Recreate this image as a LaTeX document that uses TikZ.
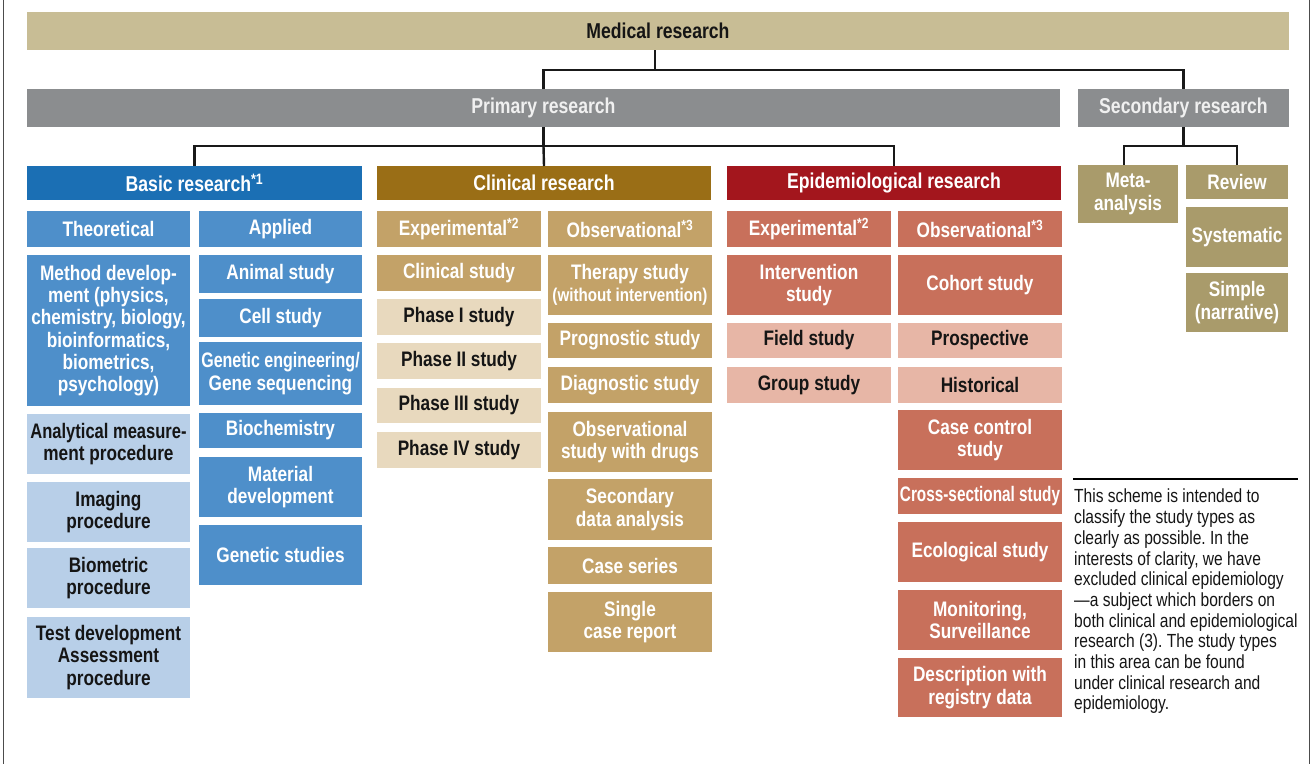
\documentclass[tikz,border=0pt]{standalone}
\usepackage{fontspec}
\usepackage{graphicx}
\setmainfont{Liberation Sans}[FakeStretch=0.82]
\frenchspacing
\definecolor{medtan}{HTML}{C8BD95}
\definecolor{prigrey}{HTML}{8B8D8F}
\definecolor{basicblue}{HTML}{1B6FB4}
\definecolor{midblue}{HTML}{4E8FCA}
\definecolor{lightblue}{HTML}{B8CFE8}
\definecolor{clinhdr}{HTML}{9A6E16}
\definecolor{clinmid}{HTML}{C3A268}
\definecolor{clinlight}{HTML}{E8D9BE}
\definecolor{epihdr}{HTML}{A3161D}
\definecolor{epimid}{HTML}{C8705B}
\definecolor{epilight}{HTML}{E7B6A6}
\definecolor{secmid}{HTML}{A99B6B}
\definecolor{darktext}{HTML}{151515}
\newcommand\hfnt{\fontsize{21.5}{23}\selectfont\bfseries}
\newcommand\bfnt{\fontsize{21}{22.3}\selectfont\bfseries}
\newcommand\nfnt{\fontsize{19}{20.7}\selectfont}
\newcommand\B[7]{%
  \pgfmathsetmacro\bw{#5-#3}\pgfmathsetmacro\bh{#6-#4}%
  \pgfmathsetmacro\bcx{(#3+#5)/2}\pgfmathsetmacro\bcy{(#4+#6)/2}%
  \node[#2, minimum width=\bw pt, minimum height=\bh pt] (#1) at (\bcx,\bcy) {#7};}
\tikzset{
  bx/.style={inner sep=0pt, outer sep=0pt, align=center, font=\bfnt, anchor=center},
  hdr/.style={bx, font=\hfnt, text=white},
  med/.style={bx, font=\hfnt, fill=medtan, text=darktext},
  pri/.style={bx, font=\hfnt, fill=prigrey, text=white!94!black},
  bhdr/.style={hdr, fill=basicblue},
  chdr/.style={hdr, fill=clinhdr},
  ehdr/.style={hdr, fill=epihdr},
  bmid/.style={bx, fill=midblue, text=white},
  blight/.style={bx, fill=lightblue, text=darktext},
  cmid/.style={bx, fill=clinmid, text=white},
  clight/.style={bx, fill=clinlight, text=darktext},
  emid/.style={bx, fill=epimid, text=white},
  elight/.style={bx, fill=epilight, text=darktext},
  smid/.style={bx, fill=secmid, text=white},
  conn/.style={line width=2.4pt, draw=black!90},
  frame/.style={line width=1.4pt, draw=black!70},
}
\begin{document}
\begin{tikzpicture}[x=1pt,y=-1pt]
\useasboundingbox (0,0) rectangle (1312,764);
\draw[frame] (3.5,0) -- (3.5,764);
\draw[frame] (1309.5,0) -- (1309.5,764);

% top levels
\B{medr}{med}{27}{12}{1289}{50}{Medical research}
\B{prir}{pri}{27}{89}{1060}{127}{Primary research}
\B{secr}{pri}{1078}{89}{1289}{127}{Secondary research}

% column headers
\B{basic}{bhdr}{27}{166}{362}{200}{Basic research\textsuperscript{*1}}
\B{clin}{chdr}{377}{166}{711}{200}{Clinical research}
\B{epi}{ehdr}{727}{166}{1061}{200}{Epidemiological research}

% secondary research
\B{meta}{smid}{1078}{165}{1178}{223}{Meta-\\analysis}
\B{rev}{smid}{1186}{165}{1288}{199}{Review}
\B{sys}{smid}{1186}{207}{1288}{267}{Systematic}
\B{sim}{smid}{1186}{273}{1288}{332}{Simple\\(narrative)}

% basic research
\B{th}{bmid}{27}{211}{190}{247}{Theoretical}
\B{ap}{bmid}{199}{211}{362}{247}{Applied}
\B{md}{bmid}{27}{255}{190}{406}{Method develop-\\ment (physics,\\chemistry, biology,\\bioinformatics,\\biometrics,\\psychology)}
\B{an}{bmid}{199}{255}{362}{293}{Animal study}
\B{cel}{bmid}{199}{299}{362}{337}{Cell study}
\B{ge}{bmid}{199}{342}{362}{405}{\scalebox{0.93}[1]{Genetic engineering/}\\Gene sequencing}
\B{bc}{bmid}{199}{413}{362}{448}{Biochemistry}
\B{am}{blight}{27}{414}{190}{474}{\scalebox{0.96}[1]{Analytical measure-}\\ment procedure}
\B{mt}{bmid}{199}{457}{362}{517}{Material\\development}
\B{im}{blight}{27}{482}{190}{542}{Imaging\\procedure}
\B{bm}{blight}{27}{548}{190}{608}{Biometric\\procedure}
\B{gs}{bmid}{199}{525}{362}{585}{Genetic studies}
\B{td}{blight}{27}{617}{190}{698}{Test development\\Assessment\\procedure}

% clinical research
\B{cexp}{cmid}{377}{211}{541}{247}{Experimental\textsuperscript{*2}}
\B{cobs}{cmid}{548}{211}{712}{247}{Observational\textsuperscript{*3}}
\B{cs}{cmid}{377}{255}{541}{291}{Clinical study}
\B{pone}{clight}{377}{299}{541}{335}{Phase I study}
\B{ptwo}{clight}{377}{343}{541}{379}{Phase II study}
\B{pthree}{clight}{377}{388}{541}{423}{Phase III study}
\B{pfour}{clight}{377}{432}{541}{468}{Phase IV study}
\B{ts}{cmid}{548}{255}{712}{315}{Therapy study\\{\fontsize{18.5}{21}\selectfont(without intervention)}}
\B{ps}{cmid}{548}{323}{712}{358}{Prognostic study}
\B{ds}{cmid}{548}{367}{712}{403}{Diagnostic study}
\B{ow}{cmid}{548}{412}{712}{472}{Observational\\study with drugs}
\B{sd}{cmid}{548}{479}{712}{540}{Secondary\\data analysis}
\B{cser}{cmid}{548}{547}{712}{584}{Case series}
\B{sc}{cmid}{548}{592}{712}{652}{Single\\case report}

% epidemiological research
\B{eexp}{emid}{727}{211}{891}{247}{Experimental\textsuperscript{*2}}
\B{eobs}{emid}{898}{211}{1062}{247}{Observational\textsuperscript{*3}}
\B{is}{emid}{727}{255}{891}{315}{Intervention\\study}
\B{fs}{elight}{727}{323}{891}{358}{Field study}
\B{gps}{elight}{727}{367}{891}{403}{Group study}
\B{ch}{emid}{898}{255}{1062}{315}{Cohort study}
\B{pr}{elight}{898}{323}{1062}{358}{Prospective}
\B{hi}{elight}{898}{367}{1062}{403}{Historical}
\B{cc}{emid}{898}{410}{1062}{470}{Case control\\study}
\B{xs}{emid}{898}{478}{1062}{514}{\scalebox{0.89}[1]{Cross-sectional study}}
\B{ec}{emid}{898}{522}{1062}{582}{Ecological study}
\B{mo}{emid}{898}{590}{1062}{650}{Monitoring,\\Surveillance}
\B{de}{emid}{898}{658}{1062}{717}{Description with\\registry data}

% connectors
\coordinate (jone) at (655,70);
\coordinate (jtwo) at (543.5,146);
\coordinate (jthree) at (1183.5,146);
\draw[conn] (medr.south -| jone) -- (jone);
\draw[conn] (prir.north) |- (jone) -| (secr.north);
\draw[conn] (prir.south) -- (jtwo);
\draw[conn] (basic.north) |- (jtwo) -| (epi.north);
\draw[conn] (jtwo) -- (clin.north);
\draw[conn] (secr.south) -- (jthree);
\draw[conn] ([xshift=-4pt]meta.north) |- (jthree) -| (rev.north);

% note
\coordinate (ruleL) at (1073,479);
\coordinate (ruleR) at (1298,479);
\draw[line width=1.2pt] (ruleL) -- (ruleR);
\node[anchor=north west, inner sep=0pt, align=left, font=\nfnt, text=darktext] (note) at (1074,489)
{This scheme is intended to\\classify the study types as\\clearly as possible. In the\\interests of clarity, we have\\excluded clinical epidemiology\\---a subject which borders on\\both clinical and epidemiological\\research (3). The study types\\in this area can be found\\under clinical research and\\epidemiology.};
\end{tikzpicture}
\end{document}
